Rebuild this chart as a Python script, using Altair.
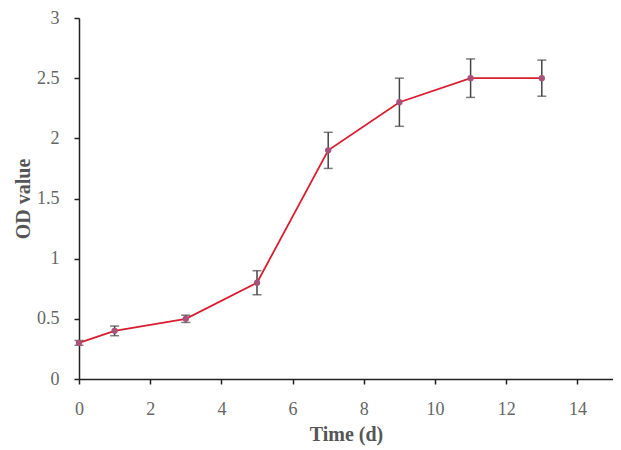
import altair as alt
import pandas as pd

time = [0, 1, 3, 5, 7, 9, 11, 13]
od = [0.30, 0.40, 0.50, 0.80, 1.90, 2.30, 2.50, 2.50]
err = [0.02, 0.04, 0.03, 0.10, 0.15, 0.20, 0.16, 0.15]

df = pd.DataFrame({"t": time, "od": od, "err": err})
df["lo"] = df["od"] - df["err"]
df["hi"] = df["od"] + df["err"]

font = "Liberation Serif"

x = alt.X("t:Q", scale=alt.Scale(domain=[0, 15], nice=False),
          axis=alt.Axis(values=[0, 2, 4, 6, 8, 10, 12, 14], title="Time (d)", grid=False,
                        format="~g", tickSize=5, labelPadding=16, titlePadding=6, labelFlush=False))
y = alt.Y("od:Q", scale=alt.Scale(domain=[0, 3], nice=False),
          axis=alt.Axis(values=[0, 0.5, 1, 1.5, 2, 2.5, 3], title="OD value", grid=False,
                        format="~g", tickSize=5, labelPadding=15, titlePadding=3, labelFlush=False))

base = alt.Chart(df)

line = base.mark_line(color="#d81e2e", strokeWidth=1.8).encode(x=x, y=y)
rules = base.mark_rule(color="#444444", strokeWidth=1.5).encode(x="t:Q", y="lo:Q", y2="hi:Q")
caps_lo = base.mark_tick(color="#444444", orient="horizontal", size=9, thickness=1.5).encode(x="t:Q", y="lo:Q")
caps_hi = base.mark_tick(color="#444444", orient="horizontal", size=9, thickness=1.5).encode(x="t:Q", y="hi:Q")
pts = base.mark_point(filled=True, color="#a8527a", size=40, opacity=1).encode(x="t:Q", y="od:Q")

chart = alt.layer(line, rules, caps_lo, caps_hi, pts).properties(
    width=534, height=361,
    autosize=alt.AutoSizeParams(type="none"),
    padding={"left": 71, "top": 10, "right": 0, "bottom": 70},
).configure_view(stroke=None).configure_axis(
    domainColor="#222222", tickColor="#222222", domainWidth=1.5, tickWidth=1.5,
    labelFont=font, titleFont=font, labelFontSize=18, titleFontSize=20,
    labelColor="#666666", titleColor="#555555", titleFontWeight="bold",
)

chart.save("out.html", embed_options={"renderer": "svg", "actions": False})
